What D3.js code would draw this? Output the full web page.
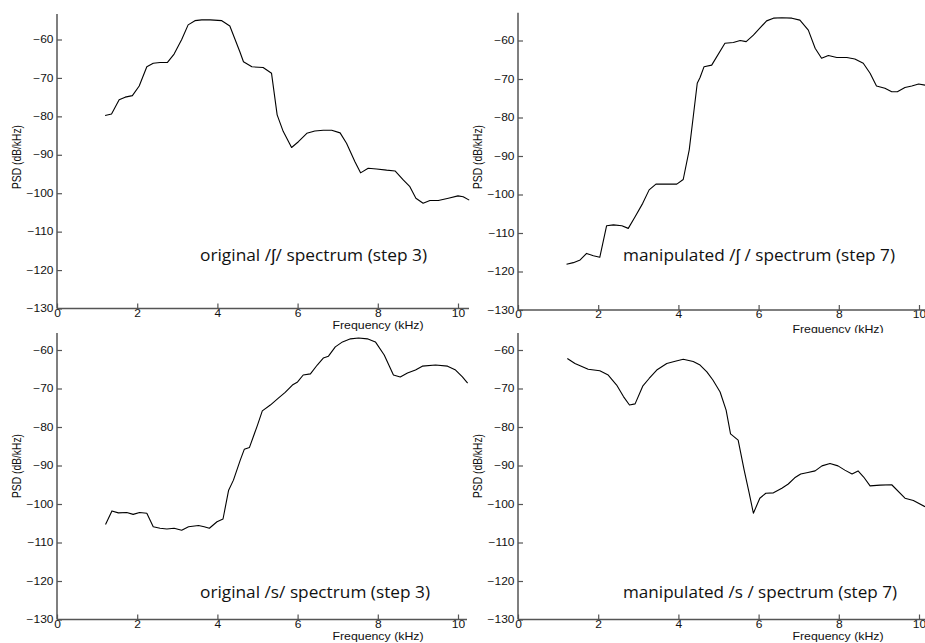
<!DOCTYPE html>
<html>
<head>
<meta charset="utf-8">
<script src="https://cdn.jsdelivr.net/npm/d3@7.9.0/dist/d3.min.js"></script>
<style>
  body { margin: 0; background: #fff; }
  svg { display: block; }
  .tick text, .lab { font-family: "Liberation Sans", Arial, sans-serif; fill: #111; }
  .note { font-family: "Open Sans", "Noto Sans", sans-serif; fill: #111; }
</style>
</head>
<body>
<svg id="chart" width="925" height="643"></svg>
<script>
// PSD curves, [frequency kHz, PSD dB/kHz]
const origSh = [[1.2,-79.8],[1.36,-79.4],[1.55,-75.7],[1.7,-75],[1.88,-74.6],[2.05,-72.1],[2.24,-67.1],[2.4,-66.2],[2.57,-66],[2.75,-66],[2.92,-63.8],[3.11,-60],[3.27,-56.2],[3.44,-55.1],[3.61,-54.9],[3.82,-54.9],[4.11,-55.1],[4.31,-56.5],[4.56,-63.2],[4.65,-65.8],[4.86,-67.1],[5.14,-67.3],[5.35,-68.8],[5.49,-79.6],[5.64,-83.9],[5.85,-88.1],[6.02,-86.6],[6.23,-84.4],[6.43,-83.8],[6.64,-83.6],[6.85,-83.6],[7.06,-84.3],[7.22,-87],[7.43,-91.8],[7.57,-94.7],[7.76,-93.5],[7.97,-93.7],[8.22,-94],[8.43,-94.2],[8.64,-96.6],[8.8,-98.3],[8.95,-101.3],[9.13,-102.6],[9.3,-101.9],[9.51,-101.9],[9.76,-101.3],[10.0,-100.7],[10.13,-100.9],[10.28,-101.8]];
const manipSh = [[1.21,-118.1],[1.38,-117.7],[1.55,-117],[1.71,-115.3],[1.88,-115.9],[2.04,-116.3],[2.21,-108.1],[2.38,-107.9],[2.59,-108.1],[2.75,-108.8],[2.92,-105.8],[3.11,-102.3],[3.27,-98.8],[3.44,-97.3],[3.71,-97.3],[3.96,-97.3],[4.12,-96.1],[4.27,-88.4],[4.37,-79.8],[4.47,-71.1],[4.54,-69.6],[4.64,-66.8],[4.83,-66.4],[5.16,-60.7],[5.37,-60.5],[5.54,-60],[5.69,-60.3],[5.87,-58.6],[6.03,-56.8],[6.2,-54.9],[6.37,-54.2],[6.58,-54.1],[6.83,-54.2],[7.03,-54.7],[7.24,-57.3],[7.41,-62],[7.57,-64.6],[7.74,-63.9],[7.95,-64.4],[8.2,-64.4],[8.4,-64.8],[8.61,-65.9],[8.78,-68.5],[8.94,-71.8],[9.15,-72.4],[9.32,-73.3],[9.46,-73.3],[9.65,-72.2],[9.82,-71.8],[9.99,-71.3],[10.15,-71.6]];
const origS = [[1.21,-105.3],[1.37,-101.8],[1.53,-102.3],[1.74,-102.2],[1.9,-102.7],[2.06,-102.2],[2.24,-102.4],[2.4,-105.9],[2.57,-106.3],[2.74,-106.5],[2.92,-106.3],[3.11,-106.8],[3.28,-105.9],[3.53,-105.6],[3.67,-105.9],[3.8,-106.3],[3.99,-104.6],[4.14,-103.9],[4.28,-96.4],[4.4,-93.8],[4.57,-88.6],[4.67,-85.8],[4.8,-85.3],[5.0,-79.5],[5.12,-75.8],[5.32,-74.3],[5.52,-72.5],[5.69,-71],[5.87,-69.1],[6.0,-68.3],[6.14,-66.5],[6.32,-66.2],[6.49,-63.9],[6.64,-62.1],[6.77,-61.6],[6.94,-59.2],[7.12,-57.9],[7.32,-57.1],[7.52,-56.9],[7.74,-57.1],[7.94,-57.9],[8.16,-61.3],[8.39,-66.5],[8.56,-67],[8.74,-66],[8.94,-65.2],[9.11,-64.2],[9.44,-63.9],[9.74,-64.2],[9.94,-65.2],[10.11,-67],[10.24,-68.6]];
const manipS = [[1.23,-62.2],[1.42,-63.5],[1.75,-65],[2.04,-65.4],[2.25,-66.5],[2.46,-69.1],[2.63,-72.1],[2.78,-74.3],[2.92,-74],[3.11,-69.4],[3.27,-67.4],[3.46,-65.2],[3.71,-63.5],[3.92,-62.9],[4.12,-62.4],[4.37,-63],[4.54,-63.9],[4.71,-65.7],[4.86,-67.8],[5.04,-70.9],[5.19,-75.6],[5.3,-81.8],[5.49,-83.4],[5.64,-91.2],[5.76,-96.9],[5.87,-102.4],[6.03,-98.5],[6.18,-97.2],[6.37,-97.1],[6.58,-95.9],[6.74,-94.8],[6.9,-93.2],[7.05,-92.2],[7.23,-91.8],[7.41,-91.4],[7.58,-90.1],[7.78,-89.5],[7.98,-90.1],[8.15,-91.2],[8.33,-92.2],[8.48,-91.4],[8.62,-93],[8.78,-95.3],[9.03,-95.1],[9.32,-95],[9.65,-98.5],[9.86,-99.1],[10.15,-100.7]];

const xTicks = [0, 2, 4, 6, 8, 10];
const yTicks = [-130, -120, -110, -100, -90, -80, -70, -60];
const notes = ["original /\u0283/ spectrum (step 3)", "manipulated /\u0283 / spectrum (step 7)",
               "original /s/ spectrum (step 3)", "manipulated /s / spectrum (step 7)"];
const xLabel = "Frequency (kHz)";
const yLabel = "PSD (dB/kHz)";

// panel placement in page pixels
const panels = [
  { data: origSh,  x0: 57,  xEnd: 469, y130: 308.5, y60: 39.5, top: 14,  clipTop: 0,   clipBot: 333, note: [200, 261, 227], xlab: [378, 329], ylab: [17, 157] },
  { data: manipSh, x0: 518, xEnd: 927, y130: 310,   y60: 40.5, top: 12.7,clipTop: 0,   clipBot: 333, note: [623, 261, 272], xlab: [838, 333], ylab: [478, 157] },
  { data: origS,   x0: 57,  xEnd: 467, y130: 619.5, y60: 350,  top: 333, clipTop: 333, clipBot: 643, note: [200, 598, 230], xlab: [378, 640], ylab: [17, 466] },
  { data: manipS,  x0: 518, xEnd: 927, y130: 619.5, y60: 350,  top: 332, clipTop: 333, clipBot: 643, note: [623, 598, 274], xlab: [838, 640], ylab: [478, 466] }
];
const pxPerKHz = 40.1;
const stretch = 1.2;

const svg = d3.select("#chart");

panels.forEach((p, i) => {
  const x = d3.scaleLinear().domain([0, 10]).range([p.x0, p.x0 + 10 * pxPerKHz]);
  const y = d3.scaleLinear().domain([-130, -60]).range([p.y130, p.y60]);

  svg.append("clipPath").attr("id", "clip" + i)
    .append("rect").attr("x", 0).attr("y", p.clipTop).attr("width", 925).attr("height", p.clipBot - p.clipTop);

  const g = svg.append("g").attr("clip-path", `url(#clip${i})`);

  // y axis
  const yAxis = g.append("g")
    .attr("transform", `translate(${p.x0},0)`)
    .call(d3.axisLeft(y).tickValues(yTicks).tickSize(-5).tickSizeOuter(0).tickPadding(3.5));
  yAxis.select(".domain").remove();
  yAxis.append("line").attr("x1", 0).attr("x2", 0).attr("y1", p.top).attr("y2", p.y130)
    .attr("stroke", "#555").attr("stroke-width", 1.5);

  // x axis
  const xAxis = g.append("g")
    .attr("transform", `translate(0,${p.y130})`)
    .call(d3.axisBottom(x).tickValues(xTicks).tickSize(-5).tickSizeOuter(0).tickPadding(1));
  xAxis.select(".domain").remove();
  xAxis.append("line").attr("x1", p.x0).attr("x2", p.xEnd).attr("y1", 0).attr("y2", 0)
    .attr("stroke", "#555").attr("stroke-width", 1.5);

  g.selectAll(".tick line").attr("stroke", "#555").attr("stroke-width", 1.2);
  g.selectAll(".tick text")
    .attr("font-size", 10)
    .attr("x", function () { return (+d3.select(this).attr("x") || 0) / stretch; })
    .attr("transform", `scale(${stretch},1)`);

  // curve
  g.append("path")
    .datum(p.data)
    .attr("fill", "none")
    .attr("stroke", "#000")
    .attr("stroke-width", 1.1)
    .attr("stroke-linejoin", "round")
    .attr("d", d3.line().x(d => x(d[0])).y(d => y(d[1])));

  // labels
  g.append("text").attr("class", "lab")
    .attr("transform", `translate(${p.xlab[0]},${p.xlab[1]}) scale(${stretch},1)`)
    .attr("text-anchor", "middle").attr("font-size", 10.3)
    .text(xLabel);
  g.append("text").attr("class", "lab")
    .attr("transform", `translate(${p.ylab[0]},${p.ylab[1]}) scale(${stretch},1) rotate(-90)`)
    .attr("text-anchor", "middle").attr("dy", "0.35em").attr("font-size", 10.3)
    .text(yLabel);

  g.append("text").attr("class", "note")
    .attr("x", p.note[0]).attr("y", p.note[1])
    .attr("font-size", 15.5)
    .attr("textLength", p.note[2]).attr("lengthAdjust", "spacingAndGlyphs")
    .text(notes[i]);
});
</script>
</body>
</html>
